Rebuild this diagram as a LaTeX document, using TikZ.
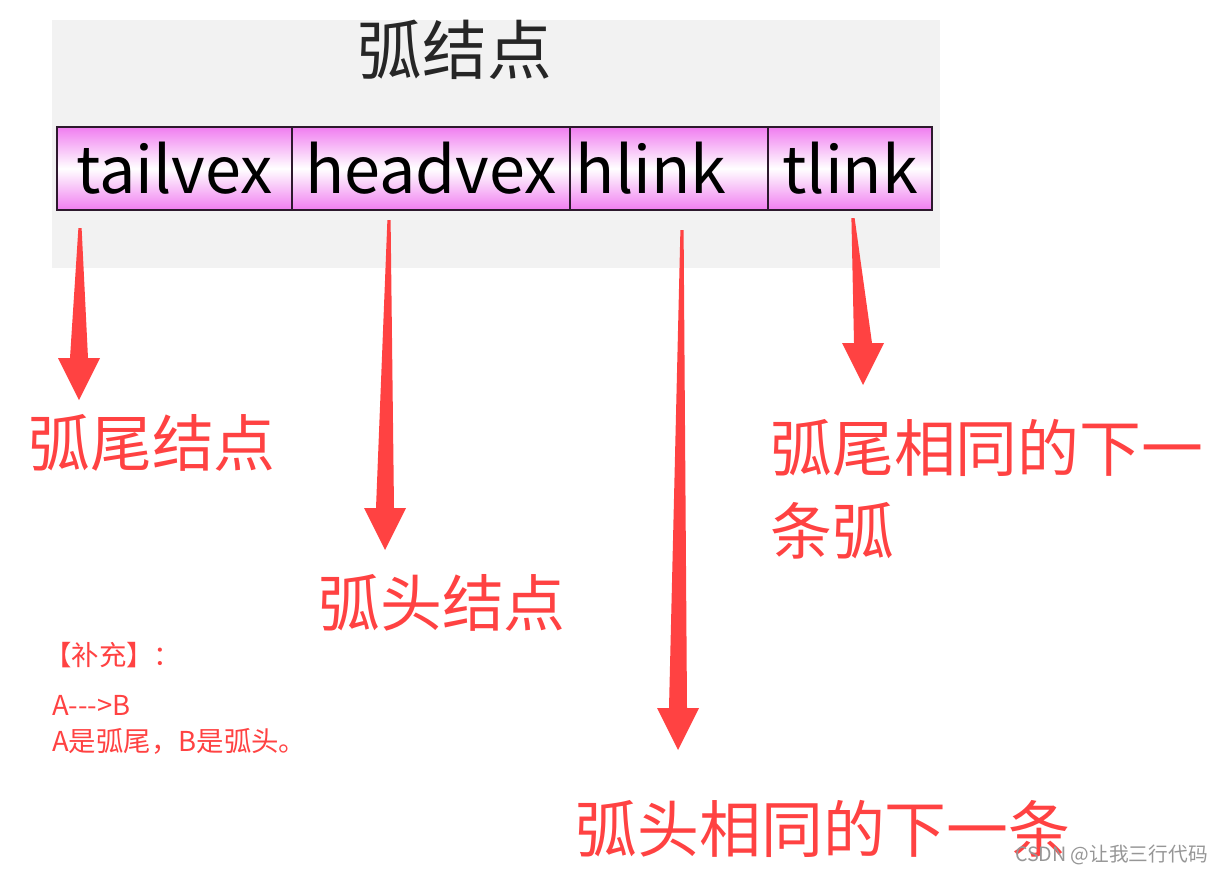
\documentclass[tikz,border=0pt]{standalone}
\usepackage{fontspec}
\newfontfamily\cjk{Noto Sans CJK SC}
\usetikzlibrary{positioning,calc}
\definecolor{bgGray}{RGB}{242,242,242}
\definecolor{recMag}{RGB}{240,125,240}
\definecolor{recEdge}{RGB}{45,25,45}
\definecolor{lblRed}{RGB}{255,66,66}
\definecolor{ttlDark}{RGB}{38,38,38}
\definecolor{wmGray}{RGB}{150,150,150}

\begin{document}
\begin{tikzpicture}[x=0.025cm,y=-0.025cm]
  \tikzset{fld/.style={draw=recEdge,line width=1.6pt,outer sep=0pt,inner sep=0pt,top color=recMag,bottom color=recMag,middle color=white,minimum height=2.075cm,minimum width=#1,font=\cjk\fontsize{46pt}{56pt}\selectfont},
    lbl/.style={text=lblRed,inner sep=0pt,font=\cjk\fontsize{44pt}{59pt}\selectfont},
    note/.style={text=lblRed,inner sep=0pt,anchor=west,font=\cjk\fontsize{19.5pt}{23pt}\selectfont}}
  \useasboundingbox (0,0) rectangle (1222,875);
  \fill[bgGray] (52,20) rectangle (940,268);
  \node[text=ttlDark,inner sep=0pt,font=\cjk\fontsize{46pt}{50pt}\selectfont] (ttl) at (455,50) {弧结点};
  \node[fld=5.875cm,anchor=north west] (tv) at (57,127) {tailvex};
  \node[fld=6.95cm,right=0pt of tv] (hv) {headvex};
  \node[fld=4.95cm,right=0pt of hv] (hl) {hlink\makebox[0.9cm]{}};
  \node[fld=4.1cm,right=0pt of hl] (tl) {tlink};
  \node[lbl] (tvL) at (152,443) {弧尾结点};
  \node[lbl] (hvL) at (442,603) {弧头结点};
  \node[lbl,anchor=base west,align=left] (tlL) at (770,554) {弧尾相同的下一\\条弧};
  \node[lbl] (hlL) at (823,829) {弧头相同的下一条};
  \coordinate (tvS) at (80,228);  \coordinate (tvT) at (79,400);
  \coordinate (hvS) at (389,220); \coordinate (hvT) at (385,550);
  \coordinate (hlS) at (682,230); \coordinate (hlT) at (678,750);
  \coordinate (tlS) at (853,218); \coordinate (tlT) at (863,385);
  \foreach \s/\t in {tvS/tvT,hvS/hvT,hlS/hlT,tlS/tlT}
    \fill[lblRed] ($(\s)+(-1.6,0)$) -- ($(\t)+(-9,-42)$) -- ($(\t)+(-21,-42)$) -- (\t) -- ($(\t)+(21,-42)$) -- ($(\t)+(9,-42)$) -- ($(\s)+(1.6,0)$) -- cycle;
  \node[note] (n1) at (44,655) {【补充】：};
  \node[note] (n2) at (52,705) {A--{}->B};
  \node[note] (n3) at (52,741) {A是弧尾，B是弧头。};
  \node[text=wmGray,inner sep=0pt,anchor=east,font=\cjk\fontsize{14pt}{16pt}\selectfont] (wm) at (1208,855) {CSDN @让我三行代码};
\end{tikzpicture}
\end{document}
